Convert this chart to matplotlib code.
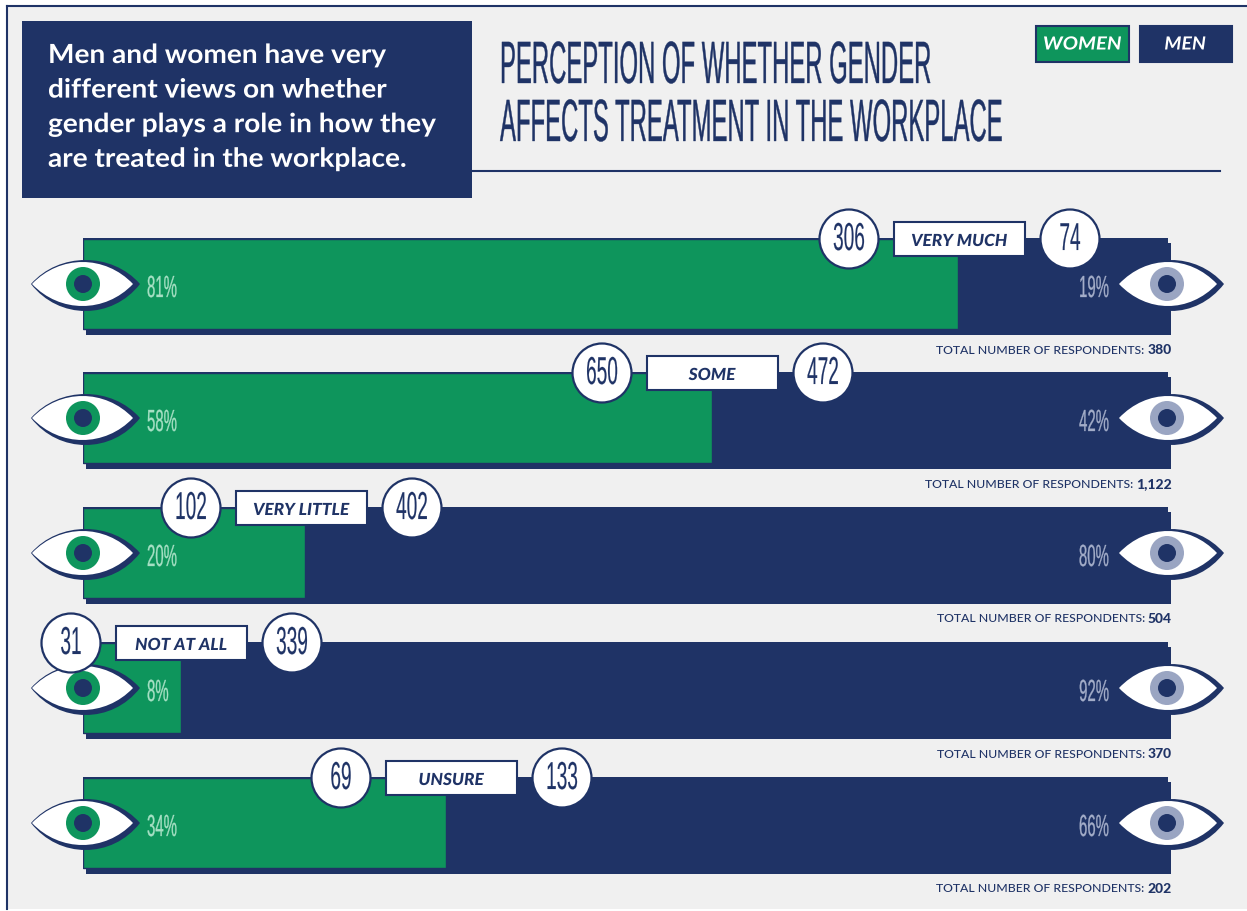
"""Perception of whether gender affects treatment in the workplace."""
import matplotlib
matplotlib.use("Agg")
import matplotlib.pyplot as plt
import matplotlib.patheffects as pe
from matplotlib.patches import Circle, PathPatch, Rectangle
from matplotlib.path import Path
from matplotlib.transforms import Affine2D

NAVY, GREEN, BG = "#1f3366", "#0e955c", "#f0f0f0"
PALE_GREEN, PALE_NAVY, IRIS_NAVY = "#a6e0c4", "#a3adc8", "#9aa5c2"
BODY = ["Lato", "Noto Sans", "DejaVu Sans"]
NARROW = ["Liberation Sans", "DejaVu Sans"]
H = 911

# data
categories = ["VERY MUCH", "SOME", "VERY LITTLE", "NOT AT ALL", "UNSURE"]
women_counts = [306, 650, 102, 31, 69]
men_counts = [74, 472, 402, 339, 133]
women_pct = [81, 58, 20, 8, 34]
men_pct = [19, 42, 80, 92, 66]
totals = [380, 1122, 504, 370, 202]
women_bar = [80.6, 58.0, 20.5, 9.0, 33.5]   # drawn length, not quite the label
intro_lines = ["Men and women have very", "different views on whether",
               "gender plays a role in how they", "are treated in the workplace."]
title_lines = ["PERCEPTION OF WHETHER GENDER", "AFFECTS TREATMENT IN THE WORKPLACE"]

row_tops = [238, 372, 507, 642, 777]
bubble_lefts = [849, 602, 191, 71, 341]   # x of the left count bubble in each row


class Squeeze(pe.AbstractPathEffect):
    """Scale a text about (x0, y0) in pixels, no condensed font is installed."""
    def __init__(self, x0, y0, sx=1.0, sy=1.0, lw=0.0):
        super().__init__()
        self.x0, self.y0, self.sx, self.sy, self.lw = x0, y0, sx, sy, lw

    def draw_path(self, renderer, gc, tpath, affine, rgbFace=None):
        t = affine + (Affine2D().translate(-self.x0, -self.y0)
                      .scale(self.sx, self.sy).translate(self.x0, self.y0))
        gc0 = renderer.new_gc()
        gc0.copy_properties(gc)
        gc0.set_linewidth(self.lw)
        if self.lw and rgbFace is not None:
            gc0.set_foreground(rgbFace)
        renderer.draw_path(gc0, tpath, t, rgbFace)
        gc0.restore()


def squeezed(ax, x, y, s, size, color, sx=1.0, sy=1.0, ha="center", va="center", family=NARROW, lw=0.0, **kw):
    t = ax.text(x, y, s, fontsize=size, color=color, ha=ha, va=va, family=family, zorder=9, **kw)
    t.set_path_effects([Squeeze(x, H - y, sx, sy, lw)])
    return t


def lens(cy, x0, x1, up, down):
    top = [(x0, cy), (x0 + 28, cy - up / 0.75), (x1 - 28, cy - up / 0.75), (x1, cy)]
    bot = [(x1 - 28, cy + down / 0.75), (x0 + 28, cy + down / 0.75), (x0, cy)]
    return Path(top + bot, [Path.MOVETO] + [Path.CURVE4] * 6)


def eye(ax, cx, cy, iris, dx=0):
    ax.add_patch(PathPatch(lens(cy, cx - 52 + dx, cx + 57, 24, 27), fc=NAVY, ec="none", zorder=4))
    ax.add_patch(PathPatch(lens(cy, cx - 51 + dx, cx + 50, 22, 22), fc="white", ec="none", zorder=5))
    ax.add_patch(Circle((cx, cy), 17, fc=iris, ec="none", zorder=6))
    ax.add_patch(Circle((cx, cy), 9, fc=NAVY, ec="none", zorder=7))


fig = plt.figure(figsize=(12.47, 9.11), dpi=100, facecolor="white")

bg = fig.add_axes([0, 0, 1, 1], zorder=0)
bg.set_xlim(0, 1247); bg.set_ylim(H, 0); bg.axis("off")
bg.add_patch(Rectangle((7, 6), 1245, 903, fc=BG, ec="none"))
bg.plot([7, 1247], [6, 6], color=NAVY, lw=1.5)
bg.plot([7, 7], [6, 909], color=NAVY, lw=1.5)

# bars, x is percent of the full bar
ax_bar = fig.add_axes([83 / 1247, 0, (1168 - 83) / 1247, 1], zorder=1)
ax_bar.set_xlim(0, 100); ax_bar.set_ylim(H, 0); ax_bar.axis("off")

# everything else is laid out in pixels
ax = fig.add_axes([0, 0, 1, 1], zorder=2)
ax.set_xlim(0, 1247); ax.set_ylim(H, 0); ax.axis("off"); ax.patch.set_alpha(0)

for top, share in zip(row_tops, women_bar):
    ax_bar.barh(top + 5, 100, left=0.28, height=92, align="edge", color=NAVY, clip_on=False)
    ax_bar.barh(top, 100, height=92, align="edge", color=NAVY)
    ax_bar.barh(top + 1, share, height=90, align="edge", color=GREEN, edgecolor=NAVY, linewidth=1)

# header
ax.add_patch(Rectangle((22, 21), 450, 177, fc=NAVY, ec="none"))
for i, line in enumerate(intro_lines):
    squeezed(ax, 48, 63 + i * 34.6, line, 19, "white", sx=1.062, ha="left", va="baseline", family=BODY, weight="bold")
for i, line in enumerate(title_lines):
    squeezed(ax, 500, 83 + i * 58, line, 17.2, NAVY, sy=2.5, ha="left", va="baseline", lw=0.25)
ax.plot([472, 1220], [171, 171], color=NAVY, lw=1.5)

# legend
ax.add_patch(Rectangle((1036, 26), 93, 36, fc=GREEN, ec=NAVY, lw=1.5))
ax.add_patch(Rectangle((1140, 26), 92, 36, fc=NAVY, ec=NAVY, lw=1.5))
squeezed(ax, 1082, 44, "WOMEN", 13, "white", sx=1.13, family=BODY, style="italic", weight="bold")
squeezed(ax, 1185, 44, "MEN", 13, "white", sx=1.08, family=BODY, style="italic", weight="bold")

renderer = fig.canvas.get_renderer()
for i, top in enumerate(row_tops):
    cy = top + 46
    eye(ax, 83, cy, GREEN)
    eye(ax, 1167, cy, IRIS_NAVY, dx=3)
    squeezed(ax, 147, cy + 5, f"{women_pct[i]}%", 22, PALE_GREEN, sx=0.49, ha="left", lw=0.2)
    squeezed(ax, 1109, cy + 5, f"{men_pct[i]}%", 22, PALE_NAVY, sx=0.49, ha="right", lw=0.2)

    c1 = bubble_lefts[i]
    c2 = c1 + 221
    for cx, n in ((c1, women_counts[i]), (c2, men_counts[i])):
        ax.add_patch(Circle((cx, top + 1), 29.5, fc="white", ec=NAVY, lw=1.6, zorder=8))
        squeezed(ax, cx, top + 2, str(n), 28, NAVY, sx=0.49, lw=0.1)
    ax.add_patch(Rectangle((c1 + 45, top - 16), 131, 34, fc="white", ec=NAVY, lw=1.5, zorder=8))
    squeezed(ax, c1 + 110, top + 3, categories[i], 12, NAVY, sx=1.04, family=BODY, style="italic", weight="black")

    num = ax.text(1172, top + 112, f"{totals[i]:,}", fontsize=10, color=NAVY, family=BODY,
                  weight="black", ha="right", va="center")
    left = num.get_window_extent(renderer).x0
    ax.text(left - 3, top + 112, "TOTAL NUMBER OF RESPONDENTS:", fontsize=8.8, color=NAVY, family=BODY,
            weight="medium", ha="right", va="center")

fig.savefig("out.png", dpi=100, facecolor="white")
